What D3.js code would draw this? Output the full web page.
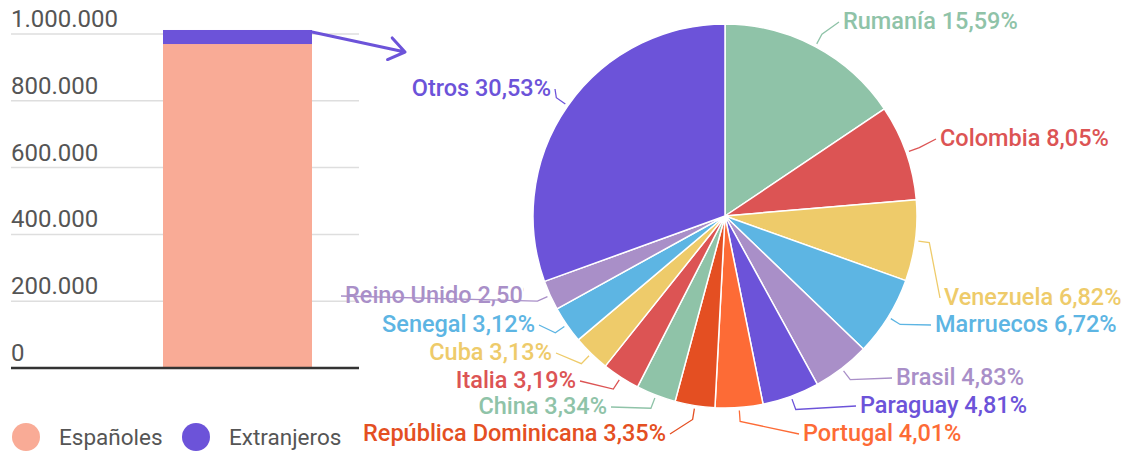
<!DOCTYPE html>
<html><head><meta charset="utf-8">
<script src="https://cdn.jsdelivr.net/npm/d3@7"></script>
<style>
html,body{margin:0;padding:0;background:#fff;}
svg{display:block;font-family:Roboto,"Noto Sans",sans-serif;}
</style></head>
<body>
<svg id="c" width="1125" height="451"></svg>
<script>
// ---- data ----
const barSeries = ["Españoles", "Extranjeros"];
const barValues = [970000, 42000];
const barColors = ["#f9ab96", "#6c53d9"];
const yTicks = [0, 200000, 400000, 600000, 800000, 1000000];
const yTickLabels = ["0", "200.000", "400.000", "600.000", "800.000", "1.000.000"];

const countries = ["Rumanía", "Colombia", "Venezuela", "Marruecos", "Brasil", "Paraguay", "Portugal",
  "República Dominicana", "China", "Italia", "Cuba", "Senegal", "Reino Unido", "Otros"];
const shares = [15.59, 8.05, 6.82, 6.72, 4.83, 4.81, 4.01, 3.35, 3.34, 3.19, 3.13, 3.12, 2.50, 30.53];
const sliceColors = ["#8fc3a8", "#dc5454", "#eecb6a", "#5db5e3", "#a98fc8", "#6c53d9", "#fd6b36",
  "#e44f22", "#8fc3a8", "#dc5454", "#eecb6a", "#5db5e3", "#a98fc8", "#6c53d9"];

// label layout (text anchor point, vertical centre)
const labelLayout = [
  {x: 843, y: 21, a: "start"}, {x: 940, y: 138, a: "start"}, {x: 944, y: 297, a: "start"},
  {x: 935, y: 324, a: "start"}, {x: 896, y: 377, a: "start"}, {x: 860, y: 405, a: "start"},
  {x: 803, y: 433, a: "start"}, {x: 666, y: 433, a: "end"}, {x: 607, y: 406, a: "end"},
  {x: 576, y: 380, a: "end"}, {x: 552, y: 352, a: "end"}, {x: 535, y: 324, a: "end"},
  {x: 345, y: 295, a: "start", clip: 524}, {x: 551, y: 88, a: "end"}
];

const svg = d3.select("#c");
const fmt = v => v.toFixed(2).replace(".", ",") + "%";

// ---- bar chart ----
const y = d3.scaleLinear().domain([0, 1000000]).range([368, 34]);
const x = d3.scaleBand().domain(["Total"]).range([163, 312]).padding(0);
const gridX0 = 11, gridX1 = 359;

const g = svg.append("g");
g.selectAll("line.grid").data(yTicks.filter(t => t > 0)).join("line")
  .attr("x1", gridX0).attr("x2", gridX1)
  .attr("y1", d => y(d)).attr("y2", d => y(d))
  .attr("stroke", "#dedede").attr("stroke-width", 1.5);
g.selectAll("text.tick").data(yTicks).join("text")
  .attr("x", gridX0).attr("y", d => y(d) - 7)
  .attr("fill", "#555").attr("font-size", 24)
  .text((d, i) => yTickLabels[i]);

const stackData = [Object.fromEntries(barSeries.map((s, i) => [s, barValues[i]]))];
const stack = d3.stack().keys(barSeries)(stackData);
g.selectAll("rect.bar").data(stack).join("rect")
  .attr("x", x("Total")).attr("width", x.bandwidth())
  .attr("y", d => y(d[0][1])).attr("height", d => y(d[0][0]) - y(d[0][1]))
  .attr("fill", (d, i) => barColors[i]);

g.append("line").attr("x1", gridX0).attr("x2", gridX1)
  .attr("y1", y(0)).attr("y2", y(0)).attr("stroke", "#333").attr("stroke-width", 2.5);

// arrow from bar top to pie
const total = d3.sum(barValues);
const ax0 = x("Total") + x.bandwidth(), ay0 = y(total) + 2;
const ax1 = 405, ay1 = 52;
const ang = Math.atan2(ay1 - ay0, ax1 - ax0);
const hl = 19, hw = 0.62;
svg.append("path")
  .attr("d", `M${ax0},${ay0}L${ax1},${ay1}M${ax1 - hl * Math.cos(ang - hw)},${ay1 - hl * Math.sin(ang - hw)}L${ax1},${ay1}L${ax1 - hl * Math.cos(ang + hw)},${ay1 - hl * Math.sin(ang + hw)}`)
  .attr("fill", "none").attr("stroke", "#6c53d9").attr("stroke-width", 3)
  .attr("stroke-linecap", "round").attr("stroke-linejoin", "round");

// legend
const lg = svg.append("g");
const legX = [26, 196];
barSeries.forEach((s, i) => {
  lg.append("circle").attr("cx", legX[i]).attr("cy", 437).attr("r", 14).attr("fill", barColors[i]);
  lg.append("text").attr("x", legX[i] + 33).attr("y", 437).attr("dy", "0.35em")
    .attr("fill", "#555").attr("font-size", 22.5).text(s);
});

// ---- pie ----
const cx = 725, cy = 216, R = 192;
const pie = d3.pie().sort(null).value(d => d)(shares);
const arc = d3.arc().innerRadius(0).outerRadius(R);
const pg = svg.append("g").attr("transform", `translate(${cx},${cy})`);
pg.selectAll("path").data(pie).join("path")
  .attr("d", arc).attr("fill", (d, i) => sliceColors[i])
  .attr("stroke", "#fff").attr("stroke-width", 1.5).attr("stroke-linejoin", "round");

// leader lines & labels
const defs = svg.append("defs");
pie.forEach((d, i) => {
  const L = labelLayout[i];
  const mid = (d.startAngle + d.endAngle) / 2;
  const p0 = [cx + (R + 3) * Math.sin(mid), cy - (R + 3) * Math.cos(mid)];
  const p1 = [cx + (R + 14) * Math.sin(mid), cy - (R + 14) * Math.cos(mid)];
  const tx = L.a === "start" ? L.x - 4 : (L.clip ? L.clip + 2 : L.x + 4);
  const p2 = [tx, L.y + 1];
  svg.append("polyline").attr("points", [p0, p1, p2].map(p => p.join(",")).join(" "))
    .attr("fill", "none").attr("stroke", sliceColors[i]).attr("stroke-width", 1.3);
  const t = svg.append("text").attr("x", L.x).attr("y", L.y).attr("dy", "0.35em")
    .attr("text-anchor", L.a).attr("font-size", 23.5).attr("font-weight", 500)
    .attr("fill", sliceColors[i]).text(countries[i] + " " + fmt(shares[i]));
  if (L.clip) {
    defs.append("clipPath").attr("id", "clip" + i).append("rect")
      .attr("x", 0).attr("y", 0).attr("width", L.clip).attr("height", 451);
    t.attr("clip-path", `url(#clip${i})`);
  }
});
</script>
</body></html>
